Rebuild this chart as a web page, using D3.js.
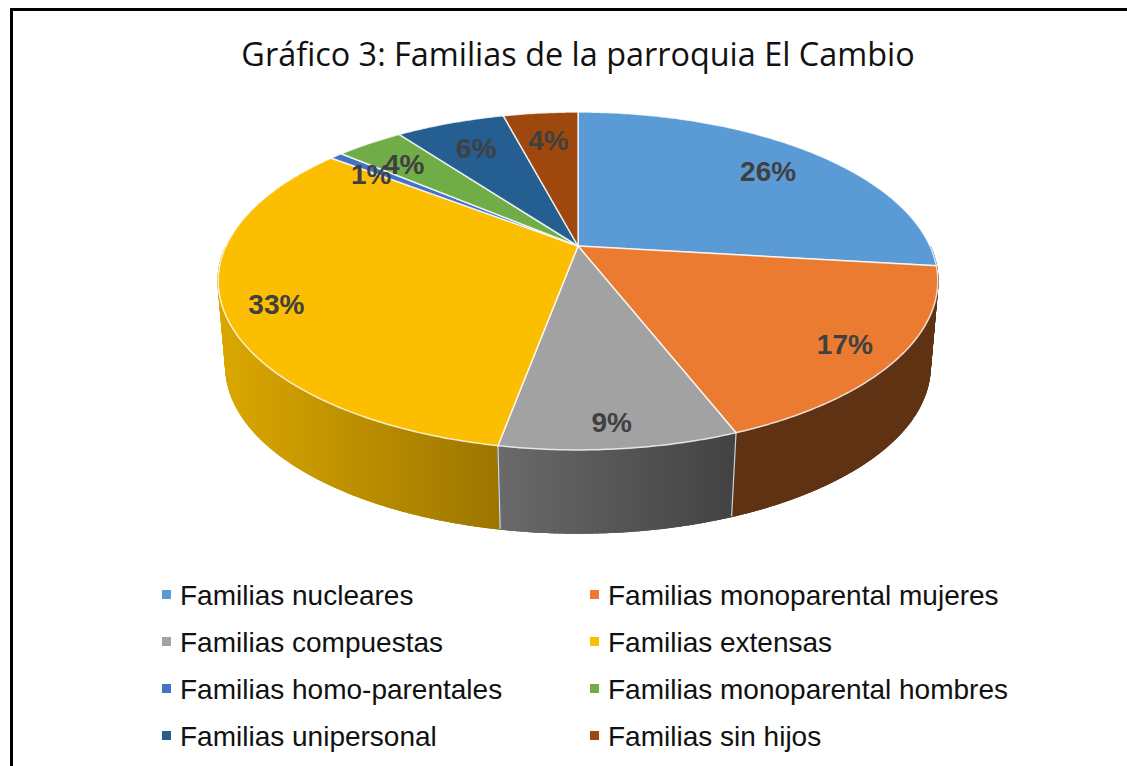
<!DOCTYPE html>
<html>
<head>
<meta charset="utf-8">
<script src="https://cdn.jsdelivr.net/npm/d3@7"></script>
<style>
  html, body { margin: 0; padding: 0; background: #fff; }
  svg { display: block; }
</style>
</head>
<body>
<svg id="chart" width="1127" height="766"></svg>
<script>
const title = 'Gráfico 3: Familias de la parroquia El Cambio';

const categories = [
  'Familias nucleares',
  'Familias monoparental mujeres',
  'Familias compuestas',
  'Familias extensas',
  'Familias homo-parentales',
  'Familias monoparental hombres',
  'Familias unipersonal',
  'Familias sin hijos',
];
// slice shares, labels as printed on it
const shares = [26.9, 17.2, 8.8, 32.6, 0.7, 3.7, 6.0, 4.1];
const percentLabels = ['26%', '17%', '9%', '33%', '1%', '4%', '6%', '4%'];
const colors = ['#5B9BD5', '#EB7B30', '#A2A2A2', '#FCBE00', '#4472C4', '#70AD47', '#255E91', '#9E480E'];
const sideLeft = ['#2f5f8a', '#5f3214', '#6a6a6a', '#dba800', '#2a4a80', '#44692b', '#163a5a', '#5f2c08'];
const sideRight = ['#2f5f8a', '#5f3214', '#424242', '#9c7500', '#2a4a80', '#44692b', '#163a5a', '#5f2c08'];

const width = 1127,
  height = 766,
  cx = 578;

// perspective disc: y0 is where the apex lands, p the foreshortening
const topFace = { y0: 246, rx: 352, ry: 161.7, p: 0.207 };
const bottomFace = { y0: 333, rx: 345, ry: 160, p: 0.2 };
const labelInset = { x: 54, y: 27 };
// best-fit labels do not sit on a perfectly regular ring
const labelNudge = [[-1, 1], [-9, 0], [-3, -1], [3, 5], [-7, 0], [-2, 0], [3, 0], [1, 0]];

const project = (face, a) => {
  const u = Math.sin(a),
    v = Math.cos(a),
    s = 1 / (1 + face.p * v);
  return [cx + face.rx * u * s, face.y0 - face.ry * v * s];
};

const angleSteps = (a0, a1) => {
  const n = Math.max(2, Math.ceil((a1 - a0) / 0.01));
  return d3.range(n + 1).map(i => a0 + ((a1 - a0) * i) / n);
};

const rim = (face, a0, a1) => angleSteps(a0, a1).map(a => project(face, a));

const svg = d3.select('#chart');
const defs = svg.append('defs');
const line = d3.line();

const color = d3.scaleOrdinal().domain(categories).range(colors);

const slices = d3
  .pie()
  .sort(null)
  .value((d, i) => shares[i])(categories);

// frame
svg
  .append('path')
  .attr('d', `M${width},9.5H11.5V${height}`)
  .attr('fill', 'none')
  .attr('stroke', '#000')
  .attr('stroke-width', 3);

svg
  .append('text')
  .attr('x', cx)
  .attr('y', 66)
  .attr('text-anchor', 'middle')
  .style('font-family', '"Open Sans"')
  .style('font-size', '32.4px')
  .style('fill', '#111')
  .text(title);

// sides: a band between the two rims, plus thin quads swept over it so the
// outline follows the tangent between the two discs. Only the front half of
// the rim is drawn, the back would peek out past the top face.
slices.forEach((d, i) => {
  const steps = angleSteps(d.startAngle, d.endAngle).filter(a => Math.cos(a) < 0);
  d.sidePaths = [];
  d.depth = -Math.cos((d.startAngle + d.endAngle) / 2);
  if (steps.length < 2) return;
  const pts = steps.map(a => project(topFace, a));
  const low = steps.map(a => project(bottomFace, a));
  const xs = pts.concat(low).map(p => p[0]);
  d.sideId = 'side' + i;
  const grad = defs
    .append('linearGradient')
    .attr('id', d.sideId)
    .attr('gradientUnits', 'userSpaceOnUse')
    .attr('x1', d3.min(xs))
    .attr('x2', d3.max(xs))
    .attr('y1', 0)
    .attr('y2', 0);
  grad.append('stop').attr('offset', 0).attr('stop-color', sideLeft[i]);
  grad.append('stop').attr('offset', 1).attr('stop-color', sideRight[i]);
  const band = line(pts.concat(low.slice().reverse())) + 'Z';
  const quads = d3.range(steps.length - 1).map(k => line([pts[k], pts[k + 1], low[k + 1], low[k]]) + 'Z');
  d.sidePaths = [band].concat(quads);
});

const sides = svg.append('g').attr('class', 'sides');

sides
  .selectAll('g')
  .data(slices.filter(d => d.sidePaths.length).sort((a, b) => a.depth - b.depth))
  .enter()
  .append('g')
  .attr('fill', d => `url(#${d.sideId})`)
  .attr('stroke', d => `url(#${d.sideId})`)
  .attr('stroke-width', 1.5)
  .selectAll('path')
  .data(d => d.sidePaths)
  .enter()
  .append('path')
  .attr('d', d => d);

// white seams on the front of the wall only
sides
  .selectAll('line')
  .data(slices.map(d => d.startAngle).filter(a => Math.cos(a) < -0.35))
  .enter()
  .append('line')
  .attr('x1', a => project(topFace, a)[0])
  .attr('y1', a => project(topFace, a)[1])
  .attr('x2', a => project(bottomFace, a)[0])
  .attr('y2', a => project(bottomFace, a)[1])
  .attr('stroke', '#fff')
  .attr('stroke-opacity', 0.75)
  .attr('stroke-width', 1.2);

// top face
svg
  .append('g')
  .attr('class', 'tops')
  .selectAll('path')
  .data(slices)
  .enter()
  .append('path')
  .attr('d', d => line([[cx, topFace.y0]].concat(rim(topFace, d.startAngle, d.endAngle))) + 'Z')
  .attr('fill', d => color(d.data))
  .attr('stroke', '#fff')
  .attr('stroke-opacity', 0.8)
  .attr('stroke-width', 1.5)
  .attr('stroke-linejoin', 'round');

// percent labels, inset from the rim at each slice's middle angle
svg
  .append('g')
  .attr('class', 'labels')
  .selectAll('text')
  .data(slices)
  .enter()
  .append('text')
  .attr('x', (d, i) => {
    const a = (d.startAngle + d.endAngle) / 2;
    return project(topFace, a)[0] - labelInset.x * Math.sin(a) + labelNudge[i][0];
  })
  .attr('y', (d, i) => {
    const a = (d.startAngle + d.endAngle) / 2;
    return project(topFace, a)[1] + labelInset.y * Math.cos(a) + labelNudge[i][1];
  })
  .attr('dy', '0.38em')
  .attr('text-anchor', 'middle')
  .style('font-family', '"Liberation Sans"')
  .style('font-weight', 'bold')
  .style('font-size', '28px')
  .style('fill', '#404040')
  .text((d, i) => percentLabels[i]);

// legend, two columns filled row by row
const legendX = d3.scalePoint().domain([0, 1]).range([162, 590]);
const legendY = d3.scalePoint().domain([0, 1, 2, 3]).range([595, 736]);

const legendItem = svg
  .append('g')
  .attr('class', 'legend')
  .selectAll('g')
  .data(categories)
  .enter()
  .append('g')
  .attr('transform', (d, i) => `translate(${legendX(i % 2)},${legendY(Math.floor(i / 2))})`);

legendItem
  .append('rect')
  .attr('y', -5)
  .attr('width', 9)
  .attr('height', 9)
  .attr('fill', d => color(d));

legendItem
  .append('text')
  .attr('x', 18)
  .attr('dy', '0.36em')
  .style('font-family', '"Liberation Sans"')
  .style('font-size', '28px')
  .style('fill', '#111')
  .text(d => d);
</script>
</body>
</html>
